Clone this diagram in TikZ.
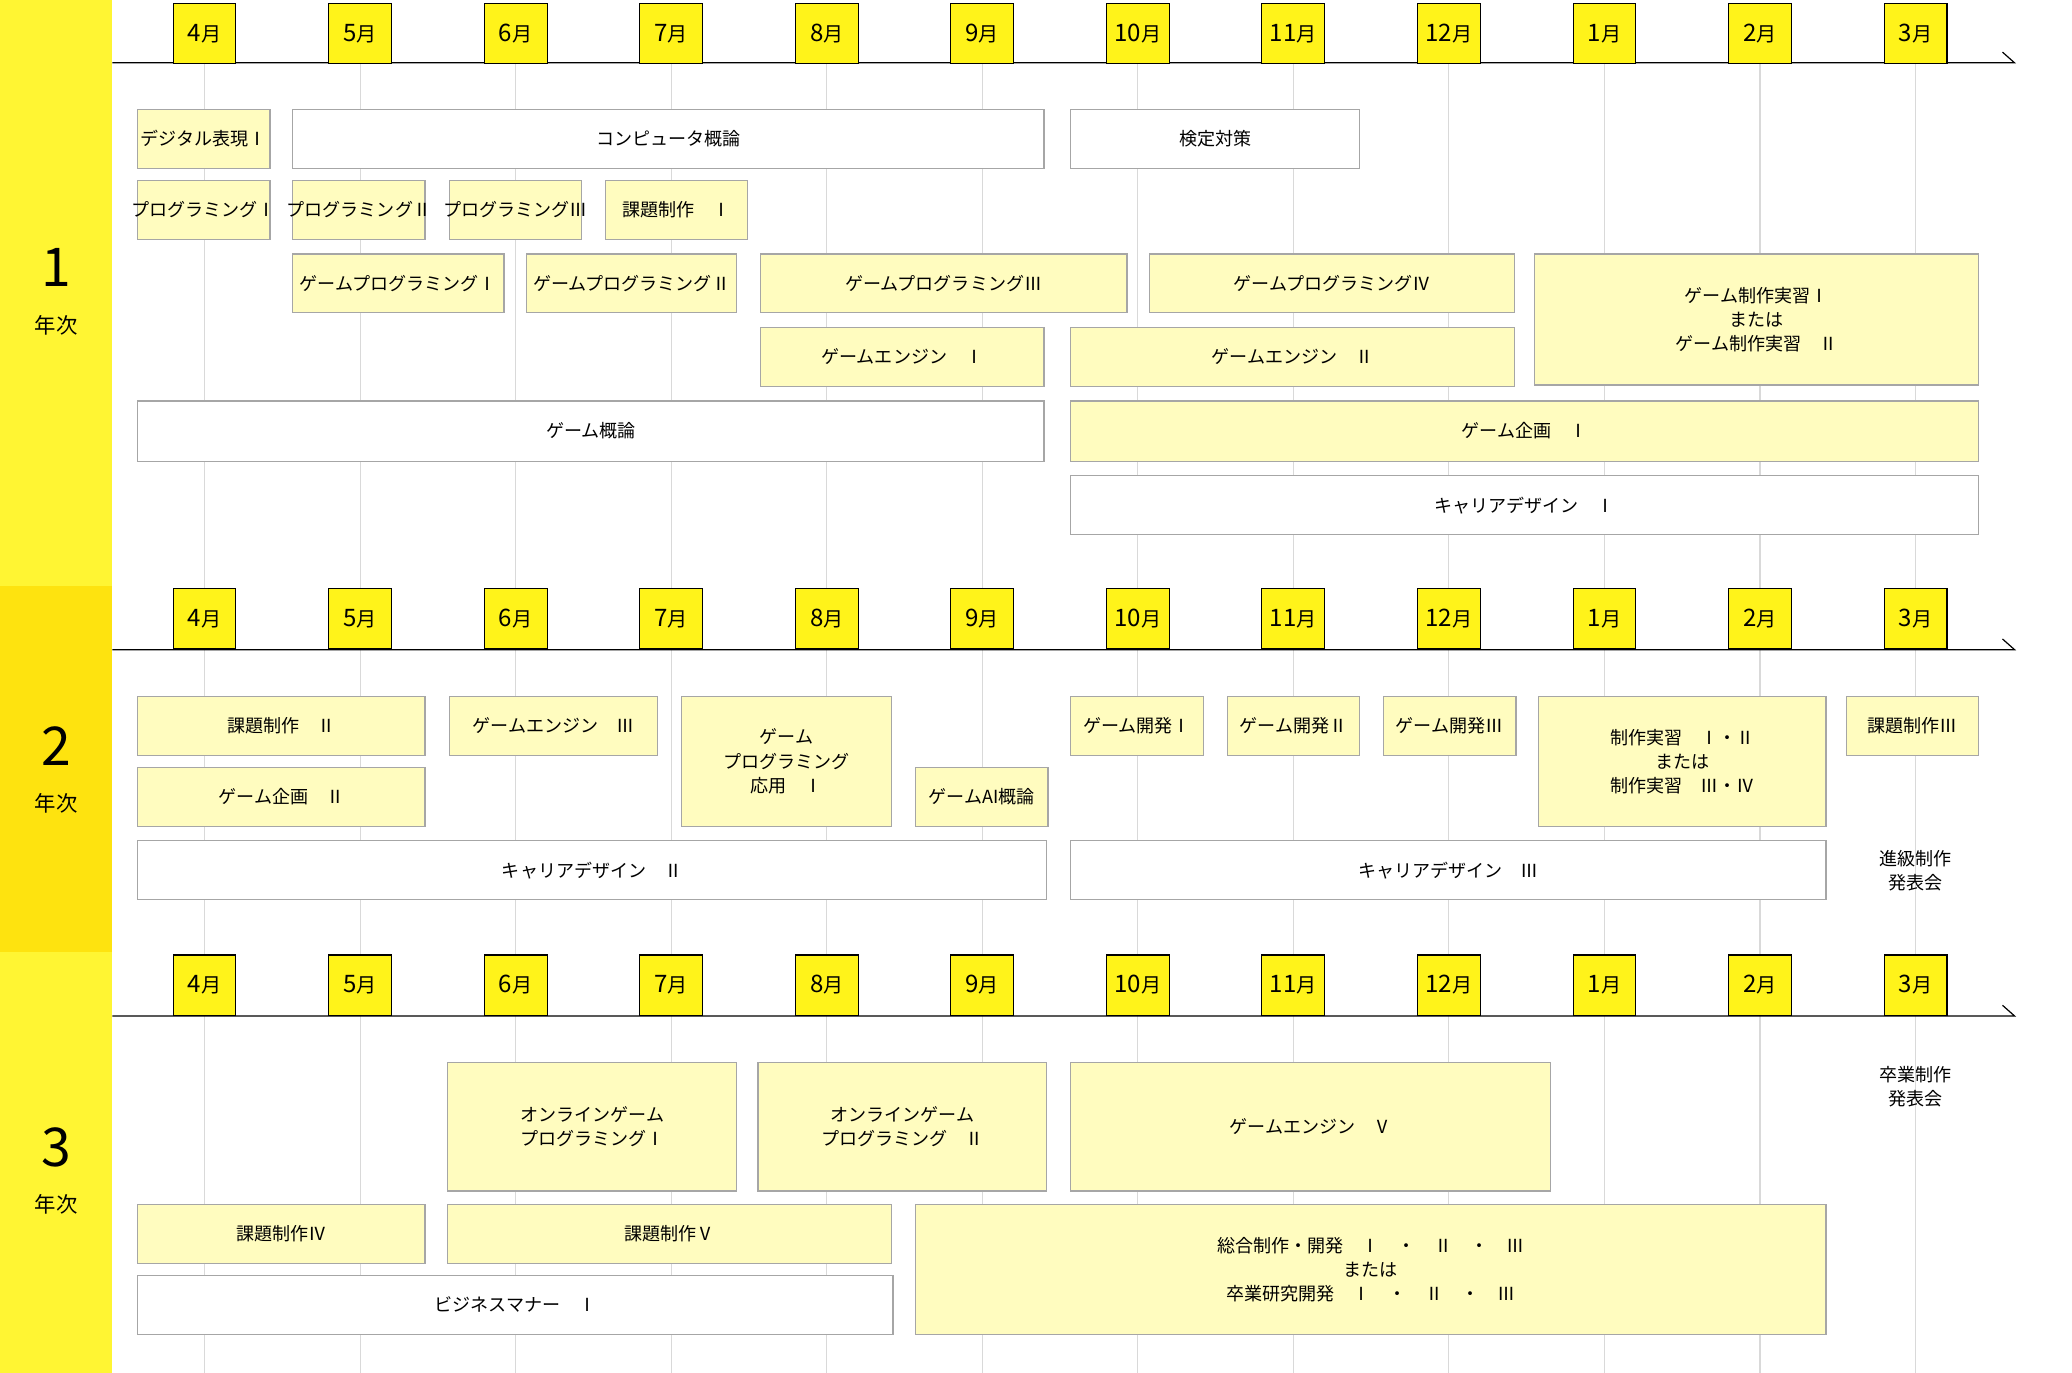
\documentclass[tikz,border=0pt]{standalone}
\usepackage{fontspec}
\setmainfont{Noto Sans CJK JP}
\begin{document}
\begin{tikzpicture}[x=1pt,y=-1pt,
  yb/.style={draw=black!35,fill=yellow!25!white,line width=0.9pt},
  wb/.style={draw=black!35,fill=white,line width=0.9pt},
  lab/.style={font=\fontsize{13.5}{15}\selectfont,align=center,inner sep=0pt},
  mon/.style={draw=black,fill=yellow!90!white,line width=0.8pt,minimum width=47pt,minimum height=45pt,font=\fontsize{15}{17}\selectfont,inner sep=0pt,anchor=north},
  grid/.style={draw=black!15,line width=0.8pt}]
\useasboundingbox (0,0) rectangle (1550,1027);
\fill[yellow!80!white] (0,0) rectangle (84,438);
\fill[yellow!85!orange!95!white] (0,438) rectangle (84,712);
\fill[yellow!80!white] (0,712) rectangle (84,1027);
\foreach \n/\y in {1/200,2/558,3/858}{
  \node[font=\fontsize{40}{42}\selectfont] (y\n) at (42,\y) {\n};
  \node[font=\fontsize{16}{18}\selectfont] (yk\n) at (42,\y+43) {年次};}
\foreach \r/\top/\bot in {a/47/440,b/486/714,c/760/1027}{
  \foreach \i in {0,...,11}{\draw[grid] (153+116.36*\i,\top) -- (153+116.36*\i,\bot);}
  \coordinate (s\r) at (84,\top); \coordinate (e\r) at (1507,\top);
  \draw[line width=0.9pt] (s\r) -- (e\r) -- ++(-9,-8);}
\foreach \r/\top in {a/2,b/440,c/714}{
  \foreach \m [count=\i from 0] in {4,5,6,7,8,9,10,11,12,1,2,3}{
    \node[mon] (m\r\i) at (153+116.36*\i,\top) {{\fontsize{18}{18}\selectfont\m}月};}}
\newcommand\bx[6]{\path[#1] (#2,#4) rectangle (#3,#5); \node[lab] (n#2x#4) at ({(#2+#3)/2},{(#4+#5)/2}) {#6};}
% row 1
\bx{yb}{103}{202}{82}{126}{デジタル表現Ⅰ}
\bx{wb}{219}{781}{82}{126}{コンピュータ概論}
\bx{wb}{801}{1017}{82}{126}{検定対策}
\bx{yb}{103}{202}{135}{179}{プログラミングⅠ}
\bx{yb}{219}{318}{135}{179}{プログラミングⅡ}
\bx{yb}{336}{435}{135}{179}{プログラミングⅢ}
\bx{yb}{453}{559}{135}{179}{課題制作　Ⅰ}
\bx{yb}{219}{377}{190}{234}{ゲームプログラミングⅠ}
\bx{yb}{394}{551}{190}{234}{ゲームプログラミングⅡ}
\bx{yb}{569}{843}{190}{234}{ゲームプログラミングⅢ}
\bx{yb}{860}{1133}{190}{234}{ゲームプログラミングⅣ}
\bx{yb}{1148}{1480}{190}{288}{ゲーム制作実習Ⅰ\\[3pt]または\\[3pt]ゲーム制作実習　Ⅱ}
\bx{yb}{569}{781}{245}{289}{ゲームエンジン　Ⅰ}
\bx{yb}{801}{1133}{245}{289}{ゲームエンジン　Ⅱ}
\bx{wb}{103}{781}{300}{345}{ゲーム概論}
\bx{yb}{801}{1480}{300}{345}{ゲーム企画　Ⅰ}
\bx{wb}{801}{1480}{356}{400}{キャリアデザイン　Ⅰ}
% row 2
\bx{yb}{103}{318}{521}{565}{課題制作　Ⅱ}
\bx{yb}{103}{318}{574}{618}{ゲーム企画　Ⅱ}
\bx{yb}{336}{492}{521}{565}{ゲームエンジン　Ⅲ}
\bx{yb}{510}{667}{521}{618}{ゲーム\\[3pt]プログラミング\\[3pt]応用　Ⅰ}
\bx{yb}{685}{784}{574}{618}{ゲームAI概論}
\bx{yb}{801}{900}{521}{565}{ゲーム開発Ⅰ}
\bx{yb}{918}{1017}{521}{565}{ゲーム開発Ⅱ}
\bx{yb}{1035}{1134}{521}{565}{ゲーム開発Ⅲ}
\bx{yb}{1151}{1366}{521}{618}{制作実習　Ⅰ・Ⅱ\\[3pt]または\\[3pt]制作実習　Ⅲ・Ⅳ}
\bx{yb}{1381}{1480}{521}{565}{課題制作Ⅲ}
\bx{wb}{103}{783}{629}{673}{キャリアデザイン　Ⅱ}
\bx{wb}{801}{1366}{629}{673}{キャリアデザイン　Ⅲ}
\node[lab] (shinkyu) at (1433,651) {進級制作\\[3pt]発表会};
% row 3
\bx{yb}{335}{551}{795}{891}{オンラインゲーム\\[3pt]プログラミングⅠ}
\bx{yb}{567}{783}{795}{891}{オンラインゲーム\\[3pt]プログラミング　Ⅱ}
\bx{yb}{801}{1160}{795}{891}{ゲームエンジン　Ⅴ}
\node[lab] (sotsu) at (1433,813) {卒業制作\\[3pt]発表会};
\bx{yb}{103}{318}{901}{945}{課題制作Ⅳ}
\bx{yb}{335}{667}{901}{945}{課題制作Ⅴ}
\bx{wb}{103}{668}{954}{998}{ビジネスマナー　Ⅰ}
\bx{yb}{685}{1366}{901}{998}{総合制作・開発　Ⅰ　・　Ⅱ　・　Ⅲ\\[3pt]または\\[3pt]卒業研究開発　Ⅰ　・　Ⅱ　・　Ⅲ}
\end{tikzpicture}
\end{document}
